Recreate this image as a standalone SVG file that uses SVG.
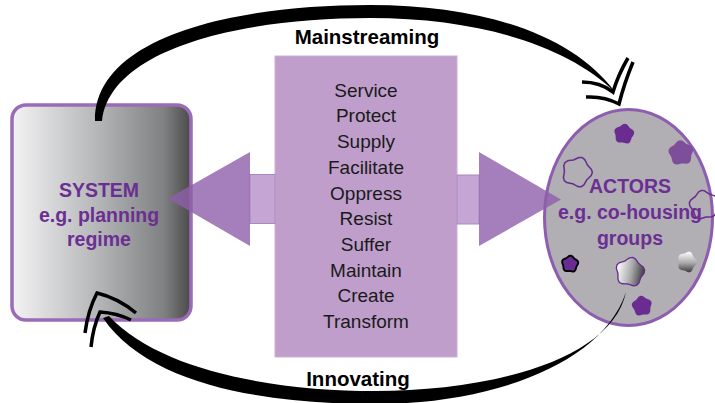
<svg xmlns="http://www.w3.org/2000/svg" width="715" height="403" viewBox="0 0 715 403">
<defs>
<linearGradient id="gBox" x1="0" y1="0" x2="1" y2="0">
<stop offset="0" stop-color="#f3f3f4"/>
<stop offset="0.5" stop-color="#b2b3b5"/>
<stop offset="0.85" stop-color="#7f8081"/>
<stop offset="1" stop-color="#4a4a4a"/>
</linearGradient>
<linearGradient id="gFl" x1="0" y1="0" x2="1" y2="0">
<stop offset="0" stop-color="#ffffff"/>
<stop offset="0.55" stop-color="#a8a8aa"/>
<stop offset="1" stop-color="#3c3c3c"/>
</linearGradient>
<polygon id="fl" stroke-linejoin="round" points="0,-9.9 1.96,-9.24 3.48,-7.81 4.76,-6.55 6.35,-5.72 8.18,-4.73 9.42,-3.06 9.4,-0.99 8.5,0.89 7.7,2.5 7.4,4.28 7.02,6.32 5.82,8.01 3.84,8.63 1.78,8.36 0,8.1 -1.78,8.36 -3.84,8.63 -5.82,8.01 -7.02,6.32 -7.4,4.28 -7.7,2.5 -8.5,0.89 -9.4,-0.99 -9.42,-3.06 -8.18,-4.73 -6.35,-5.72 -4.76,-6.55 -3.48,-7.81 -1.96,-9.24"/>
</defs>
<style>
.lbl{font-family:"Liberation Sans",Arial,sans-serif;font-weight:bold;font-size:19.5px;fill:#6b2f93;text-anchor:middle}
.verb{font-family:"Liberation Sans",Arial,sans-serif;font-size:19px;fill:#1a1a1a;text-anchor:middle}
.flow{font-family:"Liberation Sans",Arial,sans-serif;font-weight:bold;font-size:20.5px;fill:#000;text-anchor:middle}
.tri{fill:#8f5fab;fill-opacity:0.8}
.stem{fill:#c5a5d4;stroke:#ab88c0;stroke-width:1}
.chev{fill:none;stroke:#000;stroke-width:3.5}
.fp{fill:#6a2c91}
.fo{fill:none;stroke:#6a2c91;stroke-width:1}
</style>

<g id="system">
<rect x="12" y="105" width="179" height="215" rx="14" fill="url(#gBox)" stroke="#9b6bb7" stroke-width="3.5"/>
<text class="lbl" x="99" y="197">SYSTEM</text>
<text class="lbl" x="99" y="222">e.g. planning</text>
<text class="lbl" x="99" y="246">regime</text>
</g>

<g id="actors">
<ellipse cx="628.5" cy="217.5" rx="84" ry="108" fill="#b1aeb4" stroke="#8d5db0" stroke-width="3"/>
<use href="#fl" class="fp" transform="translate(624,134) scale(1.05) rotate(8)"/>
<use href="#fl" fill="#7d4f9b" transform="translate(681,153) scale(1.3) rotate(-5)"/>
<use href="#fl" class="fo" transform="translate(577,172) scale(1.55) rotate(20)"/>
<use href="#fl" class="fo" transform="translate(704,205) scale(1.5) rotate(-10)"/>
<use href="#fl" fill="#6a2c91" stroke="#000" stroke-width="2.2" transform="translate(570,264) scale(0.85) rotate(5)"/>
<use href="#fl" fill="url(#gFl)" stroke="#6a2c91" stroke-width="0.9" transform="translate(630,272) scale(1.5) rotate(10)"/>
<use href="#fl" fill="url(#gFl)" transform="translate(687,262) scale(1.0,1.1) rotate(90)"/>
<use href="#fl" class="fp" transform="translate(642,306) scale(1.05) rotate(-8)"/>
<text class="lbl" x="630" y="193">ACTORS</text>
<text class="lbl" x="630" y="219">e.g. co-housing</text>
<text class="lbl" x="630" y="245">groups</text>
</g>

<g id="roles">
<rect x="275" y="56" width="182" height="301" fill="#bf9ecb" stroke="#cbb0d8" stroke-width="1"/>
<text class="verb" x="366" y="96.7">Service</text>
<text class="verb" x="366" y="122.4">Protect</text>
<text class="verb" x="366" y="148.1">Supply</text>
<text class="verb" x="366" y="173.8">Facilitate</text>
<text class="verb" x="366" y="199.5">Oppress</text>
<text class="verb" x="366" y="225.2">Resist</text>
<text class="verb" x="366" y="250.9">Suffer</text>
<text class="verb" x="366" y="276.6">Maintain</text>
<text class="verb" x="366" y="302.3">Create</text>
<text class="verb" x="366" y="328">Transform</text>
</g>

<g id="connectors">
<rect class="stem" x="250" y="174.5" width="25" height="49"/>
<polygon class="tri" points="250,152 250,246 168,198.5"/>
<rect class="stem" x="457" y="175" width="22" height="49"/>
<polygon class="tri" points="479,152 479,246 561,199.5"/>

<path d="M 95,121 C 94,38 230,5 370,5 C 482,5 572,34 615,92 C 566,45 478,18 370,18 C 242,18 110,48 102,121 Z" fill="#000"/>
<path class="chev" d="M 582,82 Q 600,82 613,92 Q 618,75 628,58"/>
<path class="chev" d="M 586,97 Q 604,96 619,104 Q 624,84 633,62"/>

<path d="M 103,318 C 150,387 270,404 375,404 C 490,404 602,365 626,292 C 612,360 490,391 375,391 C 275,391 160,371 109,316 Z" fill="#000"/>
<path class="chev" d="M 85,333 Q 88,310 97,293 Q 118,298 136,313"/>
<path class="chev" d="M 91,347 Q 93,327 100,312 Q 117,313 131,320"/>
</g>

<text class="flow" x="367" y="44">Mainstreaming</text>
<text class="flow" x="358" y="386">Innovating</text>
</svg>
